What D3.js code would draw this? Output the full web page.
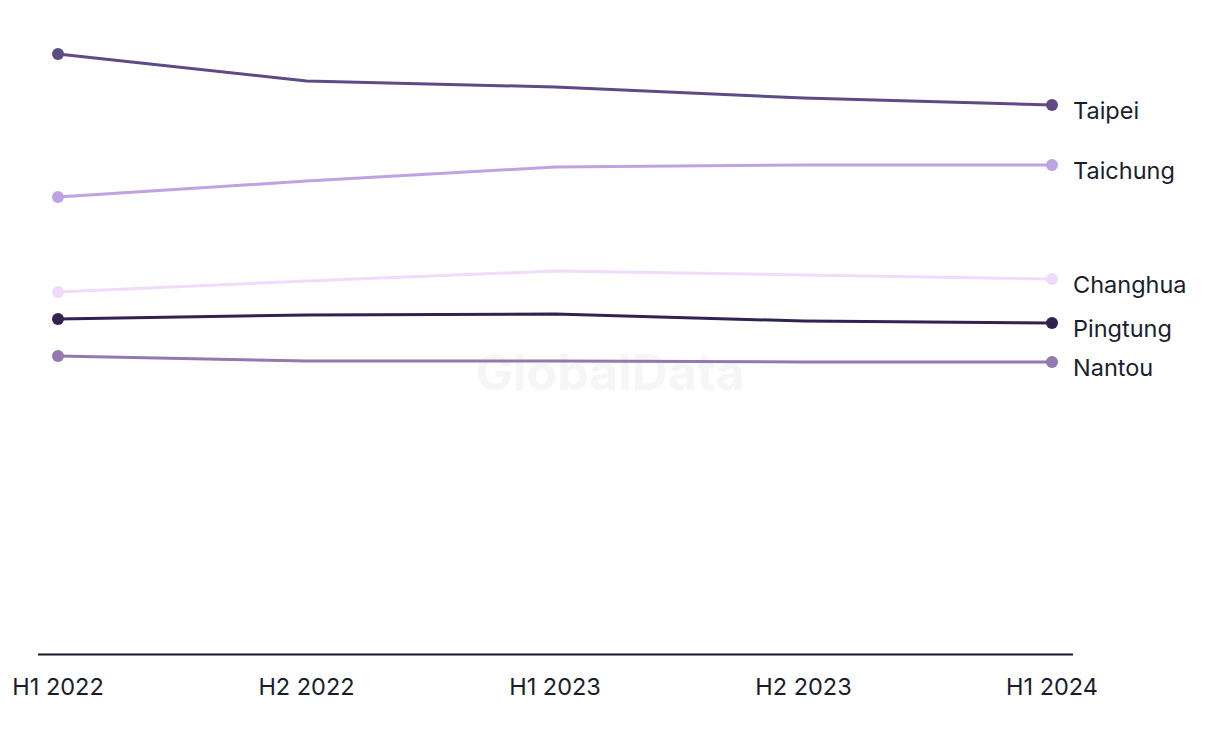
<!DOCTYPE html>
<html><head><meta charset="utf-8">
<script src="https://cdn.jsdelivr.net/npm/d3@7"></script>
<style>body{margin:0;background:#fff}svg{display:block}text{font-family:Inter,"Open Sans",sans-serif}</style>
</head><body>
<svg id="c" width="1220" height="744"></svg>
<script>
const periods = ["H1 2022","H2 2022","H1 2023","H2 2023","H1 2024"];
const taipei   = [60.0, 57.3, 56.7, 55.6, 54.9];
const taichung = [45.7, 47.3, 48.7, 48.9, 48.9];
const changhua = [36.2, 37.3, 38.3, 37.9, 37.5];
const pingtung = [33.5, 33.9, 34.0, 33.3, 33.1];
const nantou   = [29.8, 29.3, 29.3, 29.2, 29.2];
const seriesNames = ["Taipei","Taichung","Changhua","Pingtung","Nantou"];
const seriesColors = ["#5e4a85","#bfa2e2","#f1dbfc","#33224f","#9378b2"];
const seriesValues = [taipei, taichung, changhua, pingtung, nantou];

const svg = d3.select("#c");
const x = d3.scalePoint().domain(periods).range([58, 1052]);
const y = d3.scaleLinear().domain([0, 60]).range([654, 54]);

svg.append("text").attr("x", 610).attr("y", 390).attr("text-anchor","middle")
  .attr("font-size", 50).attr("font-weight", 700).attr("fill", "#f6f6f6")
  .style("font-family","Inter,'Liberation Sans',sans-serif").text("GlobalData");

svg.append("line").attr("x1", 38).attr("x2", 1073).attr("y1", 654.5).attr("y2", 654.5)
  .attr("stroke", "#151a2b").attr("stroke-width", 2);

svg.selectAll(".xl").data(periods).enter().append("text")
  .attr("x", d => x(d)).attr("y", 695).attr("text-anchor","middle")
  .attr("font-size", 23.5).attr("fill", "#1b1d2e").text(d => d);

const line = d3.line().x((d,i) => x(periods[i])).y(d => y(d));
seriesValues.forEach((vals, k) => {
  const g = svg.append("g");
  g.append("path").datum(vals).attr("d", line).attr("fill","none")
    .attr("stroke", seriesColors[k]).attr("stroke-width", 3);
  g.selectAll("circle").data([0, vals.length-1]).enter().append("circle")
    .attr("cx", i => x(periods[i])).attr("cy", i => y(vals[i])).attr("r", 6)
    .attr("fill", seriesColors[k]);
  g.append("text").attr("x", 1073).attr("y", y(vals[vals.length-1]) + 14)
    .attr("font-size", 23.5).attr("fill", "#1b1d2e").text(seriesNames[k]);
});
</script>
</body></html>
